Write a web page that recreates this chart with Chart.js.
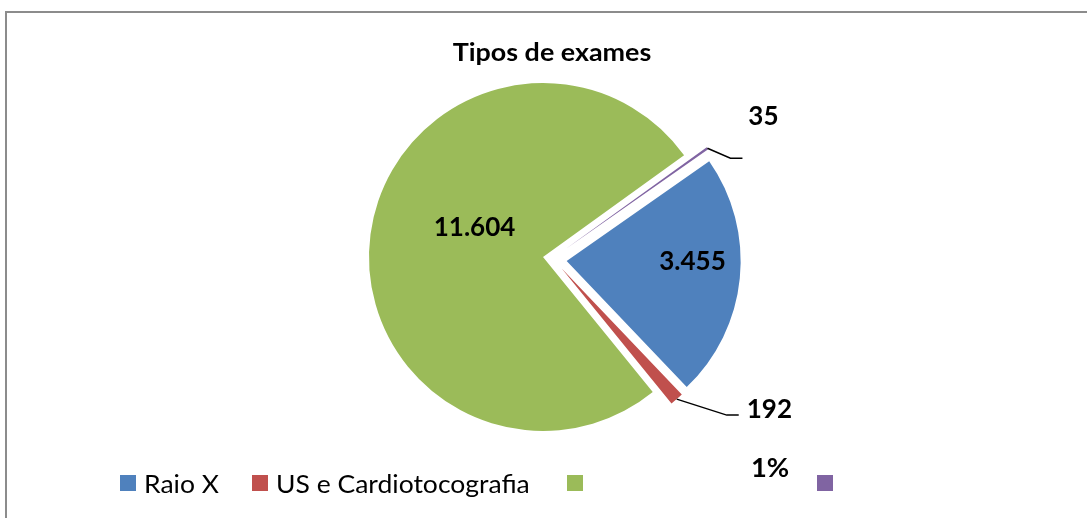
<!DOCTYPE html>
<html>
<head>
<meta charset="utf-8">
<script src="https://cdn.jsdelivr.net/npm/chart.js@4/dist/chart.umd.min.js"></script>
<style>
  html, body { margin: 0; padding: 0; background: #fff; }
  #frame {
    position: absolute; left: 5px; top: 11px; width: 1110px; height: 530px;
    border: 2px solid #8c8c8c; box-sizing: border-box; pointer-events: none;
  }
  #chart { position: absolute; left: 0; top: 0; }
</style>
</head>
<body>
<div id="frame"></div>
<canvas id="chart" width="1087" height="518"></canvas>
<script>
/* ============================================================
   DATI
============================================================ */
const chartTitle = "Tipos de exames";
const categories = ["Raio X", "US e Cardiotocografia", "", ""];
const values = [3455, 192, 11604, 35];
const strayLabel = "1%";

/* ============================================================
   STILE
============================================================ */
const colors = ["#4F81BD", "#C0504D", "#9BBB59", "#8064A2"];
// esplosione: [distanza px, correzione angolo in gradi rispetto al centro fetta]
const explode = [[24, 4], [22, -17], [0, 0], [24, 16]];
const FONT = "Lato, 'Open Sans', sans-serif";

// come disegnare l'etichetta di ogni fetta (baseline alfabetica)
const labelStyle = [
    { type: "inside", frac: 0.75, dx: -4, dy: -4 },
    { type: "leader", elbow: [50, 16], tail: 12, text: [8, 3], align: "left" },
    { type: "inside", frac: 0.42, dx: 4, dy: -11 },
    { type: "leader", elbow: [23, 10], tail: 12, text: [21, -33], align: "center" }
];
const legendX = [120, 252, 567, 817];

// 3455 -> "3.455"
function fmt(v) {
    return String(v).replace(/\B(?=(\d{3})+(?!\d))/g, ".");
}

function shiftOf(arc, i) {
    const a = (arc.startAngle + arc.endAngle) / 2 + explode[i][1] * Math.PI / 180;
    return [Math.cos(a) * explode[i][0], Math.sin(a) * explode[i][0]];
}

function drawText(ctx, str, x, y, size, bold, align, sx) {
    ctx.save();
    ctx.translate(x, y);
    ctx.scale(sx, 1);
    ctx.font = (bold ? "bold " : "") + size + "px " + FONT;
    ctx.textAlign = align;
    ctx.textBaseline = "alphabetic";
    ctx.fillStyle = "#000";
    ctx.fillText(str, 0, 0);
    ctx.restore();
}

/* ============================================================
   PLUGIN — fette esplose
============================================================ */
const explodePlugin = {
    id: "explodeSlices",
    beforeDatasetsDraw(chart) {
        const ctx = chart.ctx;
        const meta = chart.getDatasetMeta(0);
        meta.data.forEach((arc, i) => {
            const [dx, dy] = shiftOf(arc, i);
            ctx.save();
            ctx.translate(dx, dy);
            arc.draw(ctx);
            ctx.restore();
        });
        return false;
    }
};

/* ============================================================
   PLUGIN — titolo, etichette, legenda
============================================================ */
const textPlugin = {
    id: "texts",
    afterDraw(chart) {
        const ctx = chart.ctx;
        const meta = chart.getDatasetMeta(0);
        ctx.save();

        // titolo
        drawText(ctx, chartTitle, 552, 61, 24, true, "center", 1.12);

        // etichette dei valori
        meta.data.forEach((arc, i) => {
            const st = labelStyle[i];
            const mid = (arc.startAngle + arc.endAngle) / 2;
            const [sx, sy] = shiftOf(arc, i);
            const cx = arc.x + sx;
            const cy = arc.y + sy;
            const r = arc.outerRadius;
            if (st.type === "inside") {
                drawText(ctx, fmt(values[i]),
                    cx + Math.cos(mid) * r * st.frac + st.dx,
                    cy + Math.sin(mid) * r * st.frac + st.dy,
                    26, true, "center", 1);
            } else {
                const x0 = cx + Math.cos(mid) * r;
                const y0 = cy + Math.sin(mid) * r;
                const x1 = x0 + st.elbow[0];
                const y1 = y0 + st.elbow[1];
                const x2 = x1 + st.tail;
                ctx.strokeStyle = "#000";
                ctx.lineWidth = 1.5;
                ctx.beginPath();
                ctx.moveTo(x0, y0);
                ctx.lineTo(x1, y1);
                ctx.lineTo(x2, y1);
                ctx.stroke();
                drawText(ctx, fmt(values[i]), x2 + st.text[0], y1 + st.text[1],
                    26, true, st.align, 1);
            }
        });

        // legenda
        categories.forEach((name, i) => {
            ctx.fillStyle = colors[i];
            ctx.fillRect(legendX[i], 475, 16, 16);
            drawText(ctx, name, legendX[i] + 24, 493, 25, false, "left", 1.06);
        });

        // "1%"
        drawText(ctx, strayLabel, 770, 477, 26, true, "center", 1.05);

        ctx.restore();
    }
};

/* ============================================================
   GRAFICO
============================================================ */
new Chart(document.getElementById("chart"), {
    type: "pie",
    data: {
        labels: categories,
        datasets: [{
            data: values,
            backgroundColor: colors,
            borderWidth: 0,
            radius: 174
        }]
    },
    options: {
        responsive: false,
        animation: false,
        rotation: 55,
        layout: { padding: { left: 0, right: 1, top: 82, bottom: 86 } },
        plugins: {
            legend: { display: false },
            title: { display: false },
            tooltip: { enabled: false }
        }
    },
    plugins: [explodePlugin, textPlugin]
});
</script>
</body>
</html>
